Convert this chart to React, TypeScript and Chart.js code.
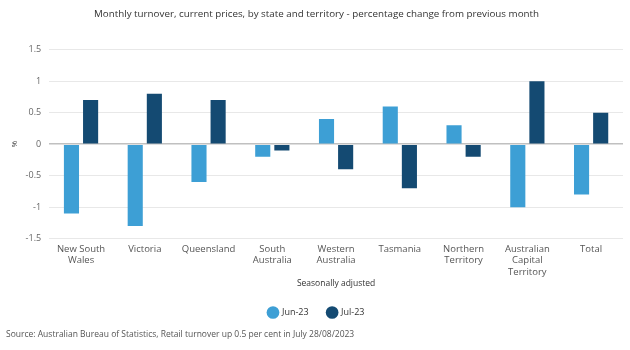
import React, { useEffect, useRef } from "react";
import { Chart, registerables } from "chart.js";

Chart.register(...registerables);

const categories: (string | string[])[] = [
  ["New South", "Wales"],
  "Victoria",
  "Queensland",
  ["South", "Australia"],
  ["Western", "Australia"],
  "Tasmania",
  ["Northern", "Territory"],
  ["Australian", "Capital", "Territory"],
  "Total",
];
const jun23 = [-1.1, -1.3, -0.6, -0.2, 0.4, 0.6, 0.3, -1.0, -0.8];
const jul23 = [0.7, 0.8, 0.7, -0.1, -0.4, -0.7, -0.2, 1.0, 0.5];
const seriesLabels = ["Jun-23", "Jul-23"];
const titleText = "Monthly turnover, current prices, by state and territory - percentage change from previous month";
const xTitle = "Seasonally adjusted";
const yTitle = "%";
const sourceText = "Source: Australian Bureau of Statistics, Retail turnover up 0.5 per cent in July 28/08/2023";

const FONT = "'Segoe UI', 'Open Sans', sans-serif";

export default function App() {
  const ref = useRef<HTMLCanvasElement | null>(null);
  useEffect(() => {
    if (!ref.current) return;
    const chart = new Chart(ref.current, {
      type: "bar",
      data: {
        labels: categories,
        datasets: [
          { label: seriesLabels[0], data: jun23, backgroundColor: "#3d9fd5", borderWidth: 0 },
          { label: seriesLabels[1], data: jul23, backgroundColor: "#144a72", borderWidth: 0 },
        ],
      },
      options: {
        animation: false,
        responsive: false,
        maintainAspectRatio: false,
        layout: { padding: { left: 10, right: 7, top: 0, bottom: 23 } },
        datasets: { bar: { categoryPercentage: 0.6, barPercentage: 0.79 } },
        plugins: {
          title: {
            display: true,
            text: titleText,
            color: "#333",
            font: { family: FONT, size: 9.8, weight: "normal" },
            padding: { top: 8, bottom: 30 },
          },
          legend: {
            position: "bottom",
            labels: {
              usePointStyle: true,
              pointStyle: "circle",
              boxWidth: 9,
              boxHeight: 9,
              padding: 19,
              color: "#333",
              font: { family: FONT, size: 9 },
            },
          },
          tooltip: { enabled: false },
        },
        scales: {
          x: {
            grid: { display: false, drawTicks: false },
            border: { display: false },
            ticks: { color: "#555", font: { family: FONT, size: 9.5 }, maxRotation: 0, autoSkip: false, padding: 5 },
            title: { display: true, text: xTitle, color: "#333", font: { family: FONT, size: 8.5 }, padding: { top: -4, bottom: 0 } },
          },
          y: {
            min: -1.5,
            max: 1.5,
            ticks: {
              stepSize: 0.5,
              color: "#666",
              font: { family: FONT, size: 9 },
              padding: 8,
              callback: (v: any) => String(Math.round(Number(v) * 10) / 10),
            },
            grid: {
              drawTicks: false,
              color: (ctx: any) => (ctx.tick && ctx.tick.value === 0 ? "#c0c0c0" : "#e8e8e8"),
              lineWidth: (ctx: any) => (ctx.tick && ctx.tick.value === 0 ? 1.5 : 1),
            },
            border: { display: false },
            title: { display: true, text: yTitle, color: "#444", font: { family: FONT, size: 8 }, padding: { top: 0, bottom: -2 } },
          },
        },
      },
    });
    return () => chart.destroy();
  }, []);
  return (
    <div style={{ position: "absolute", left: 0, top: 0, width: 630, height: 350, background: "#fff" }}>
      <canvas ref={ref} width={630} height={350} style={{ position: "absolute", left: 0, top: 0 }} />
      <div
        style={{
          position: "absolute",
          left: 6,
          top: 328,
          fontFamily: FONT,
          fontSize: 8.5,
          color: "#555",
          whiteSpace: "nowrap",
        }}
      >
        {sourceText}
      </div>
    </div>
  );
}
